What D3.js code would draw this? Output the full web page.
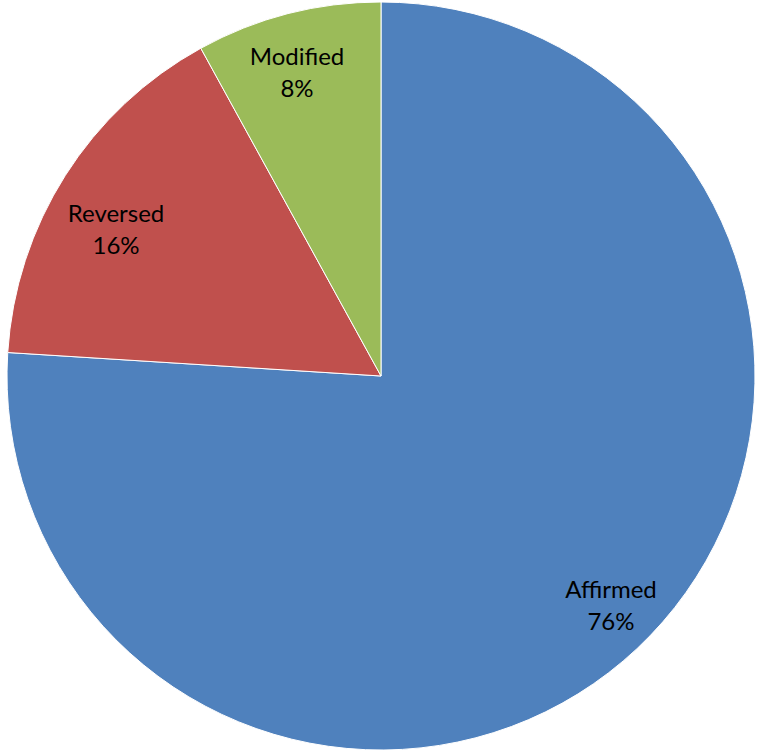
<!DOCTYPE html>
<html><head><meta charset="utf-8">
<script src="https://cdn.jsdelivr.net/npm/d3@7"></script>
<style>html,body{margin:0;padding:0;background:#fff;}svg{display:block;}</style>
</head><body>
<script>
const categories = ["Affirmed", "Reversed", "Modified"];
const values = [76, 16, 8];
const colors = ["#4F81BD", "#C0504D", "#9BBB59"];

const W = 759, H = 751, cx = 381, cy = 376, R = 374;
const svg = d3.select("body").append("svg").attr("width", W).attr("height", H);
const g = svg.append("g").attr("transform", `translate(${cx},${cy})`);
const data = categories.map((c, i) => ({cat: c, val: values[i], color: colors[i]}));
const pie = d3.pie().value(d => d.val).sort(null);
const arcs = pie(data);
const arc = d3.arc().innerRadius(0).outerRadius(R);
g.selectAll("path").data(arcs).join("path")
  .attr("d", arc).attr("fill", d => d.data.color)
  .attr("stroke", "#fff").attr("stroke-width", 1);
const labelR = [325, 300, 308];
const nudge = [[7.5, -7], [-11.7, 14.8], [-7.4, -4.7]];
const font = "Lato, 'Open Sans', sans-serif";
const lab = g.selectAll("g.lab").data(arcs).join("g").attr("class", "lab")
  .attr("transform", (d, i) => {
    const a = d3.arc().innerRadius(labelR[i]).outerRadius(labelR[i]);
    const [x, y] = a.centroid(d);
    return `translate(${x + nudge[i][0]},${y + nudge[i][1]})`;
  });
lab.append("text").attr("text-anchor", "middle").attr("y", -8)
  .style("font-family", font).style("font-size", "24px").attr("fill", "#000")
  .text(d => d.data.cat);
lab.append("text").attr("text-anchor", "middle").attr("y", 24)
  .style("font-family", font).style("font-size", "24px").attr("fill", "#000")
  .text(d => d.data.val + "%");
</script>
</body></html>
